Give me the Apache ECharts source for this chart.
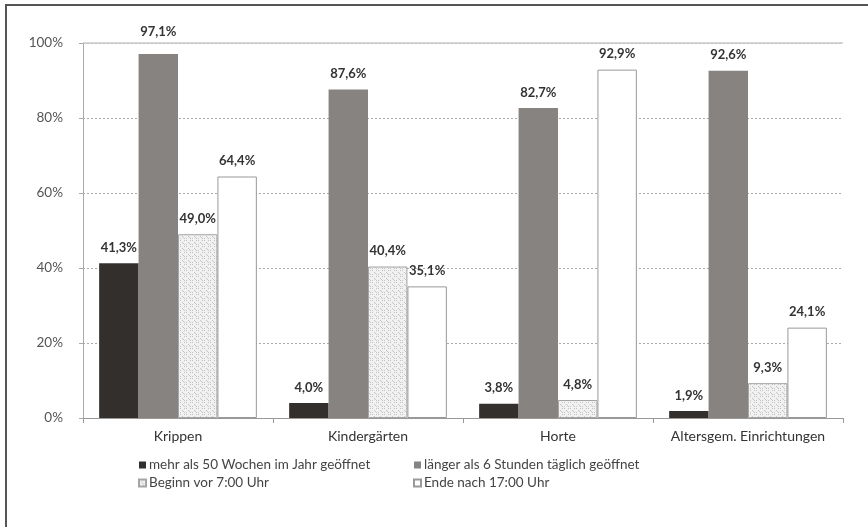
<!DOCTYPE html>
<html>
<head>
    <meta charset="utf-8">
    <script src="https://cdn.jsdelivr.net/npm/echarts@6/dist/echarts.min.js"></script>
    <style>
        html, body { margin: 0; padding: 0; background: #fff; }
        #main { width: 868px; height: 527px; }
    </style>
</head>
<body>
    <div id="main"></div>
    <script>
        var categories = ['Krippen', 'Kindergärten', 'Horte', 'Altersgem. Einrichtungen'];
        var seriesNames = [
            'mehr als 50 Wochen im Jahr geöffnet',
            'länger als 6 Stunden täglich geöffnet',
            'Beginn vor 7:00 Uhr',
            'Ende nach 17:00 Uhr'
        ];
        var wochen = [41.3, 4.0, 3.8, 1.9];
        var stunden = [97.1, 87.6, 82.7, 92.6];
        var beginn = [49.0, 40.4, 4.8, 9.3];
        var ende = [64.4, 35.1, 92.9, 24.1];
        var yTicks = [0, 20, 40, 60, 80, 100];

        // dotted pattern for "Beginn vor 7:00 Uhr"
        var pat = document.createElement('canvas');
        pat.width = 6; pat.height = 6;
        var ctx = pat.getContext('2d');
        ctx.fillStyle = '#f1f1f1';
        ctx.fillRect(0, 0, 6, 6);
        ctx.fillStyle = '#c4c4c4';
        ctx.fillRect(0, 0, 1, 1);
        ctx.fillRect(2, 2, 1, 1);
        ctx.fillRect(4, 0, 1, 1);
        ctx.fillRect(3, 3, 1, 1);
        ctx.fillRect(0, 4, 1, 1);
        ctx.fillRect(4, 4, 1, 1);

        var font = 'Lato, "Open Sans", sans-serif';

        function fmt(p) {
            return p.value.toFixed(1).replace('.', ',') + '%';
        }

        function bar(name, data, itemStyle) {
            return {
                name: name,
                type: 'bar',
                data: data,
                barGap: '0%',
                barCategoryGap: '17%',
                itemStyle: itemStyle,
                label: {
                    show: true,
                    position: 'top',
                    distance: 9,
                    formatter: fmt,
                    fontFamily: font,
                    fontWeight: 'bold',
                    fontSize: 13,
                    color: '#333'
                }
            };
        }

        var legendText = { fontSize: 13.5, color: '#444', fontFamily: font, padding: [0, 0, 0, -2] };

        var myChart = echarts.init(document.getElementById('main'));
        var series = [
            bar(seriesNames[0], wochen, { color: '#332f2d' }),
            bar(seriesNames[1], stunden, { color: '#868381' }),
            bar(seriesNames[2], beginn, { color: { image: pat, repeat: 'repeat' }, borderColor: '#a5a5a5', borderWidth: 1 }),
            bar(seriesNames[3], ende, { color: '#ffffff', borderColor: '#999', borderWidth: 1 })
        ];
        // solid top line at 100%
        series[0].markLine = {
            silent: true,
            symbol: 'none',
            label: { show: false },
            lineStyle: { color: '#c8c8c8', type: 'solid', width: 1.5 },
            data: [{ yAxis: yTicks[yTicks.length - 1] }]
        };
        // the 97,1% label sits above the top line, as in the original
        series[1].data = stunden.map(function (v, i) {
            return i === 0 ? { value: v, label: { distance: 16 } } : v;
        });

        var option = {
            animation: false,
            backgroundColor: '#fff',
            textStyle: { fontFamily: font },
            graphic: [{
                type: 'polyline',
                shape: { points: [[6, 527], [6, 5], [868, 5]] },
                style: { stroke: '#555', lineWidth: 2, fill: null }
            }],
            grid: { left: 83, right: 25, top: 43, bottom: 109 },
            legend: [{
                left: 133, top: 453, orient: 'vertical', itemGap: 4,
                icon: 'rect', itemWidth: 7, itemHeight: 7,
                textStyle: legendText,
                data: [seriesNames[0], seriesNames[2]]
            }, {
                left: 408, top: 453, orient: 'vertical', itemGap: 4,
                icon: 'rect', itemWidth: 7, itemHeight: 7,
                textStyle: legendText,
                data: [seriesNames[1], seriesNames[3]]
            }],
            xAxis: {
                type: 'category',
                data: categories,
                axisLine: { lineStyle: { color: '#999' } },
                axisTick: { show: true, interval: 0, length: 5, lineStyle: { color: '#999' } },
                axisLabel: { interval: 0, fontSize: 14, color: '#333', margin: 11, fontFamily: font }
            },
            yAxis: {
                type: 'value',
                min: yTicks[0],
                max: yTicks[yTicks.length - 1],
                interval: 20,
                axisLine: { show: true, lineStyle: { color: '#aaa' } },
                axisTick: { show: true, length: 4, lineStyle: { color: '#aaa' } },
                axisLabel: { formatter: '{value}%', fontSize: 13.5, color: '#555', margin: 20, fontFamily: font },
                splitLine: { lineStyle: { color: '#aaa', type: [2, 2] } }
            },
            series: series
        };
        myChart.setOption(option);
    </script>
</body>
</html>
